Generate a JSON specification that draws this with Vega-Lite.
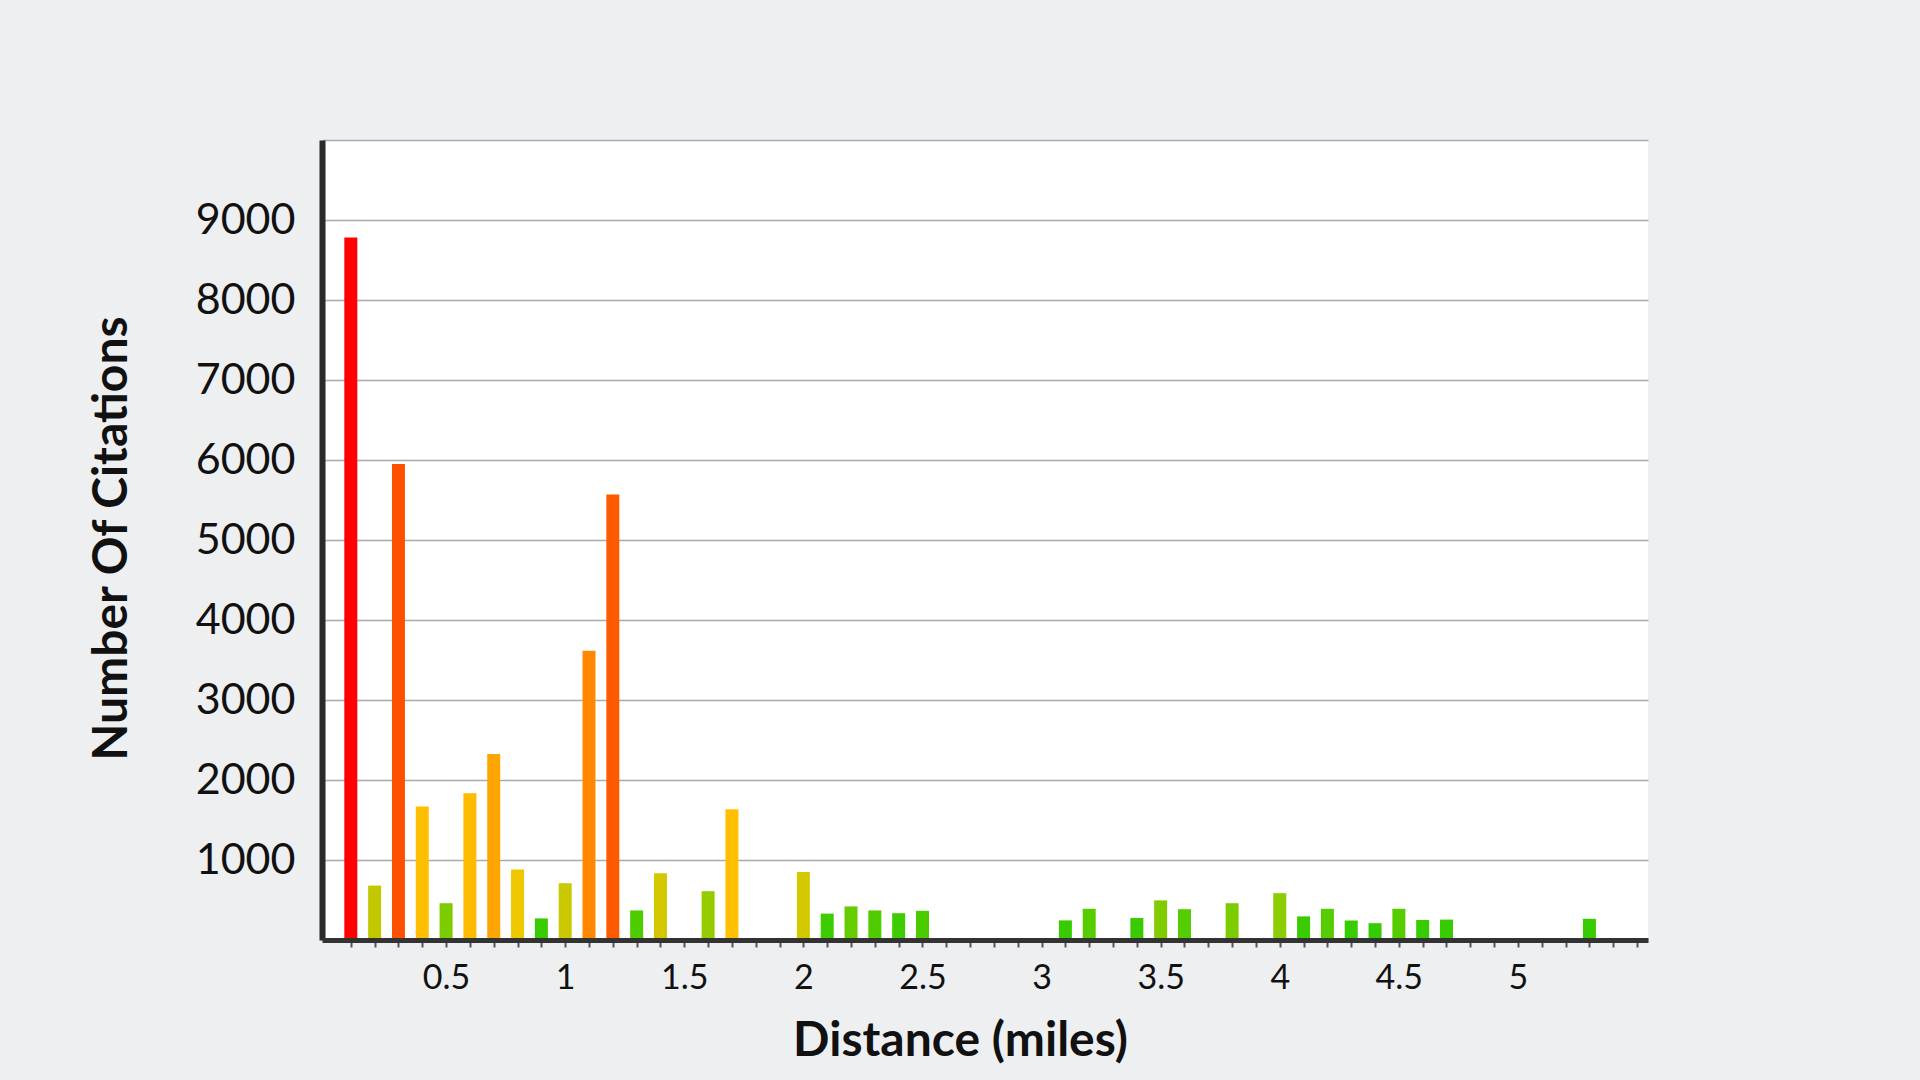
{
  "$schema": "https://vega.github.io/schema/vega-lite/v6.json",
  "width": 1326,
  "height": 800,
  "autosize": {"type": "none"},
  "padding": {"left": 322, "top": 140, "right": 272, "bottom": 140},
  "background": "#eeeff1",
  "config": {"font": "Lato", "view": {"fill": "white", "stroke": null}},
  "data": {"values": [
    {"distance": 0.1, "citations": 8780},
    {"distance": 0.2, "citations": 680},
    {"distance": 0.3, "citations": 5950},
    {"distance": 0.4, "citations": 1670},
    {"distance": 0.5, "citations": 460},
    {"distance": 0.6, "citations": 1835},
    {"distance": 0.7, "citations": 2325},
    {"distance": 0.8, "citations": 880},
    {"distance": 0.9, "citations": 270},
    {"distance": 1.0, "citations": 710},
    {"distance": 1.1, "citations": 3615},
    {"distance": 1.2, "citations": 5570},
    {"distance": 1.3, "citations": 370},
    {"distance": 1.4, "citations": 835},
    {"distance": 1.6, "citations": 610},
    {"distance": 1.7, "citations": 1635},
    {"distance": 2.0, "citations": 850},
    {"distance": 2.1, "citations": 330},
    {"distance": 2.2, "citations": 420},
    {"distance": 2.3, "citations": 370},
    {"distance": 2.4, "citations": 335},
    {"distance": 2.5, "citations": 365},
    {"distance": 3.1, "citations": 245},
    {"distance": 3.2, "citations": 390},
    {"distance": 3.4, "citations": 275},
    {"distance": 3.5, "citations": 495},
    {"distance": 3.6, "citations": 385},
    {"distance": 3.8, "citations": 460},
    {"distance": 4.0, "citations": 585},
    {"distance": 4.1, "citations": 295},
    {"distance": 4.2, "citations": 390},
    {"distance": 4.3, "citations": 245},
    {"distance": 4.4, "citations": 210},
    {"distance": 4.5, "citations": 390},
    {"distance": 4.6, "citations": 250},
    {"distance": 4.7, "citations": 255},
    {"distance": 5.3, "citations": 265}
  ]},
  "mark": {"type": "bar", "size": 13},
  "encoding": {
    "x": {
      "field": "distance",
      "type": "quantitative",
      "scale": {"domain": [0, 5.525], "nice": false, "zero": false},
      "axis": {
        "title": "Distance (miles)",
        "values": [0.1,0.2,0.3,0.4,0.5,0.6,0.7,0.8,0.9,1.0,1.1,1.2,1.3,1.4,1.5,1.6,1.7,1.8,1.9,2.0,2.1,2.2,2.3,2.4,2.5,2.6,2.7,2.8,2.9,3.0,3.1,3.2,3.3,3.4,3.5,3.6,3.7,3.8,3.9,4.0,4.1,4.2,4.3,4.4,4.5,4.6,4.7,4.8,4.9,5.0,5.1,5.2,5.3,5.4,5.5],
        "grid": false,
        "zindex": 1,
        "domainColor": "#333333",
        "domainWidth": 5,
        "tickColor": "#555555",
        "tickWidth": 2,
        "tickSize": 7,
        "labelExpr": "abs(datum.value*2 - round(datum.value*2)) < 0.01 && datum.value < 5.4 ? format(datum.value, '~g') : ''",
        "labelFontSize": 34,
        "labelColor": "#111111",
        "labelBaseline": "middle",
        "labelPadding": 31,
        "labelFlush": false,
        "labelOverlap": false,
        "labelBound": false,
        "titleFontSize": 48,
        "titleFontWeight": "bold",
        "titleColor": "#111111",
        "titleX": 638,
        "titleY": 115,
        "titleBaseline": "alphabetic",
        "titleAlign": "center"
      }
    },
    "y": {
      "field": "citations",
      "type": "quantitative",
      "scale": {"domain": [0, 10000], "nice": false},
      "axis": {
        "title": "Number Of Citations",
        "values": [0,1000,2000,3000,4000,5000,6000,7000,8000,9000,10000],
        "format": "d",
        "grid": true,
        "gridColor": "#aaaaaa",
        "gridWidth": 1.5,
        "domainColor": "#2b2b2b",
        "domainWidth": 6,
        "ticks": false,
        "tickSize": 0,
        "labelExpr": "datum.value > 0 && datum.value < 10000 ? datum.label : ''",
        "labelFontSize": 43,
        "labelColor": "#111111",
        "labelPadding": 27,
        "labelFlush": false,
        "labelOverlap": false,
        "titleFontSize": 48,
        "titleFontWeight": "bold",
        "titleColor": "#111111",
        "titleX": -196,
        "titleY": 398,
        "titleAngle": -90,
        "titleBaseline": "alphabetic",
        "titleAlign": "center"
      }
    },
    "color": {
      "field": "citations",
      "type": "quantitative",
      "legend": null,
      "scale": {
        "domain": [200, 330, 400, 460, 600, 690, 850, 880, 1640, 1840, 2330, 3620, 5570, 5950, 8800],
        "range": ["#33cc00", "#3ccc00", "#5ccc00", "#7ccc00", "#8ecc00", "#c8c800", "#d4c800", "#f0c800", "#ffc000", "#ffbb00", "#ffa500", "#ff8800", "#ff5a00", "#ff5000", "#ff0000"],
        "interpolate": "rgb"
      }
    }
  }
}
